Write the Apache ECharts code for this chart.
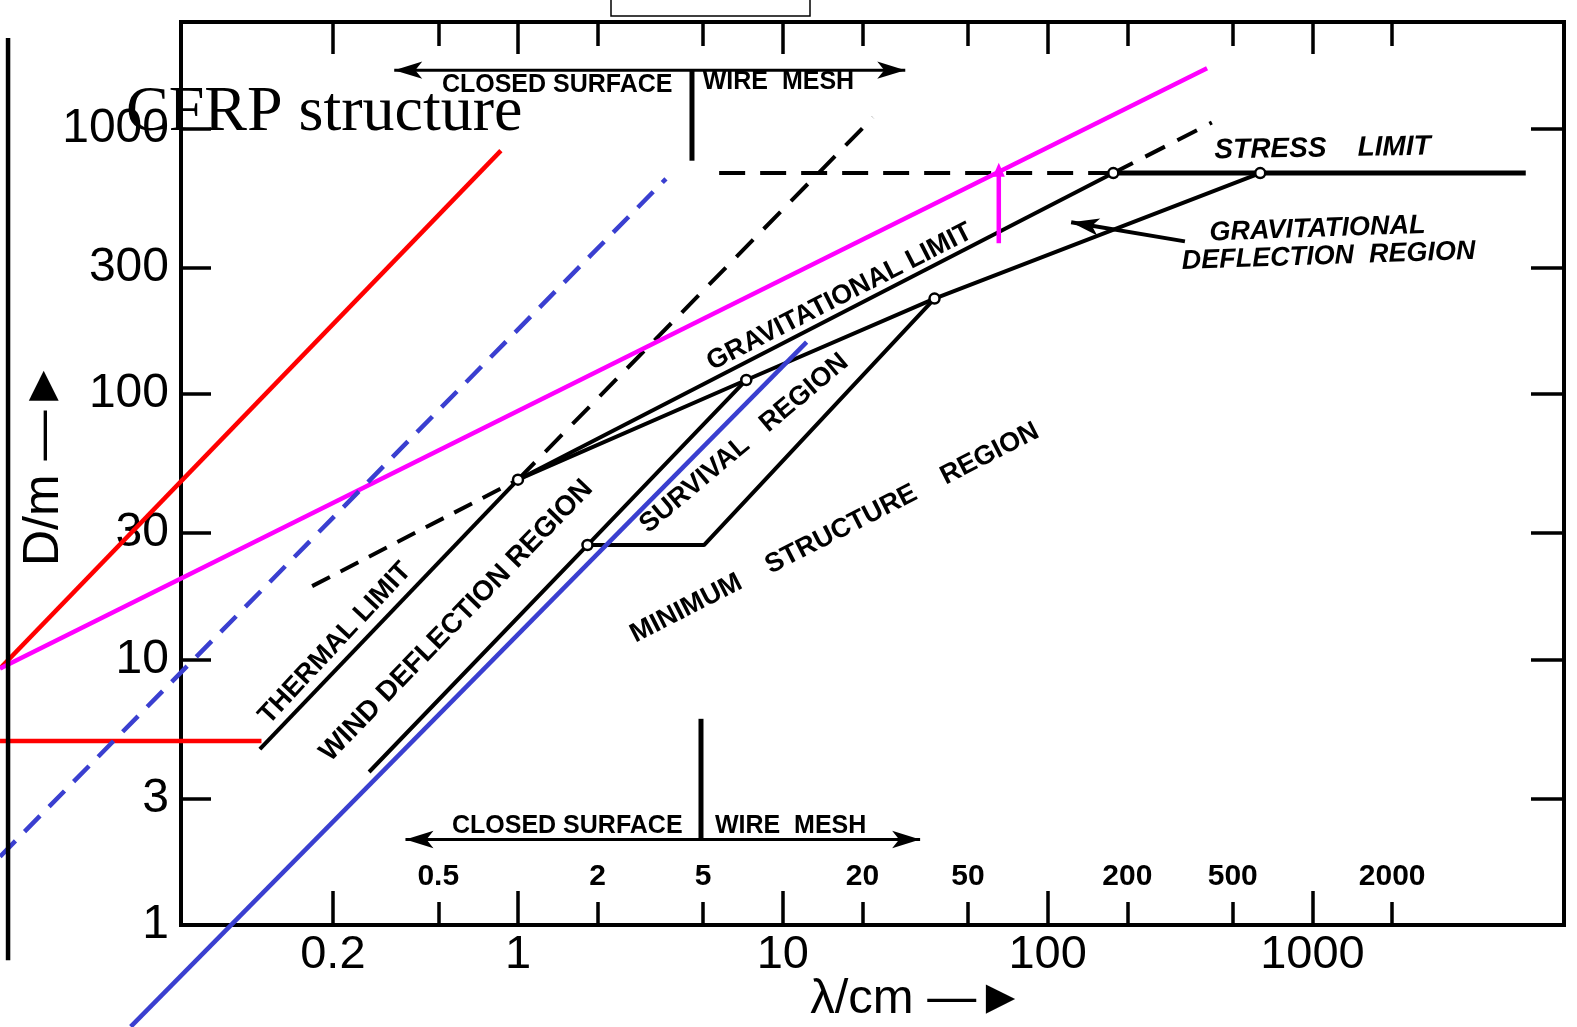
<!DOCTYPE html>
<html>
<head>
<meta charset="utf-8">
<script src="https://cdn.jsdelivr.net/npm/echarts@6/dist/echarts.min.js"></script>
<style>
html,body{margin:0;padding:0;background:#fff;}
#chart{width:1577px;height:1027px;}
</style>
</head>
<body>
<div id="chart"></div>
<script>
// ---------------- data (λ in cm, D in m) ----------------
const xMajorTicks = [0.2, 1, 10, 100, 1000];
const xMinorTicks = [0.5, 2, 5, 20, 50, 200, 500, 2000];
const yTicks = [3, 10, 30, 100, 300, 1000];
const yLabels = [1, 3, 10, 30, 100, 300, 1000];

// original figure lines
const thermalLimit = [[0.106, 4.6], [1.0, 47.6]];
const gravLimitDashedLow = [[0.167, 18.9], [1.0, 47.6]];
const gravLimit = [[1.0, 47.6], [177, 680]];
const gravLimitDashedHigh = [[177, 680], [417, 1054]];
const steepDashed = [[1.0, 47.6], [21.9, 1101]];
const windLower = [[0.274, 3.77], [1.83, 27.0], [7.28, 113]];
const lowerBranch = [[1.0, 47.6], [7.28, 113], [37.4, 229], [635, 680]];
const survivalEdge = [[1.83, 27.0], [5.04, 27.0], [37.4, 229]];
const stressDashed = [[5.75, 680], [177, 680]];
const stressSolid = [[177, 680], [6390, 680]];
const nodePoints = [[1.0, 47.6], [7.28, 113], [1.83, 27.0], [37.4, 229], [177, 680], [635, 680]];
const pointerLine = [[330, 376], [122.7, 444]];
const topBar = [[0.341, 1660], [29.0, 1660]];
const topDivider = [[4.54, 1660], [4.54, 757]];
const bottomBar = [[0.376, 2.10], [33.0, 2.10]];
const bottomDivider = [[4.91, 2.10], [4.91, 5.98]];

// overlay lines
const redDiagonal = [[0.01107, 9.25], [0.862, 826]];
const redHorizontal = [[0.01107, 4.93], [0.1075, 4.93]];
const magentaLine = [[0.01107, 9.25], [400, 1687]];
const magentaArrow = [[65.4, 370], [65.4, 700]];
const blueDashed = [[0.01107, 1.81], [3.62, 647]];
const blueSolid = [[0.0345, 0.414], [12.3, 157]];
const blackVertical = [[0.01187, 0.737], [0.01187, 2193]];

// annotation texts and anchors
const annotationTexts = ['THERMAL LIMIT', 'WIND DEFLECTION REGION', 'GRAVITATIONAL LIMIT', 'SURVIVAL   REGION',
  'MINIMUM    STRUCTURE    REGION', 'STRESS    LIMIT', 'GRAVITATIONAL', 'DEFLECTION  REGION',
  'CLOSED SURFACE', 'WIRE  MESH', 'CLOSED SURFACE', 'WIRE  MESH'];
const annotationAnchors = [[0.204, 11.5], [0.586, 14.0], [16.4, 232], [7.15, 65.2],
  [15.7, 30.0], [1092, 840], [1045, 418], [1151, 330],
  [1.406, 1455], [9.63, 1494], [1.535, 2.35], [10.7, 2.35]];
const annotationAngles = [47, 46, 27, 40, 27, 1, 2, 2, 0, 0, 0, 0];
const annotationSizes = [27, 28, 27, 27, 27, 28, 27, 27, 25, 25, 25, 25];
const annotationItalic = [false, false, false, false, false, true, true, true, false, false, false, false];

// ---------------- chart ----------------
const W = 1577, H = 1027;
const G = {left: 181, right: 13, top: 22, bottom: 102};
const X_MIN = 0.0534, X_MAX = 8910, Y_MIN = 1, Y_MAX = 2521;
// extents of a full-page helper grid that shares the same log scales (for overlays reaching beyond the frame)
const lx0 = Math.log10(X_MIN), lx1 = Math.log10(X_MAX), ly0 = Math.log10(Y_MIN), ly1 = Math.log10(Y_MAX);
const perPx = (lx1 - lx0) / (W - G.left - G.right);
const perPy = (ly1 - ly0) / (H - G.top - G.bottom);
const FX_MIN = Math.pow(10, lx0 - G.left * perPx), FX_MAX = Math.pow(10, lx1 + G.right * perPx);
const FY_MIN = Math.pow(10, ly0 - G.bottom * perPy), FY_MAX = Math.pow(10, ly1 + G.top * perPy);

const chart = echarts.init(document.getElementById('chart'), null, {renderer: 'canvas'});
const fmt = v => String(+Number(v).toPrecision(6));

function blackLine(data, dash, width) {
  return {
    type: 'line', data: data, symbol: 'none', silent: true, clip: false, z: 2,
    lineStyle: {color: '#000', width: width || 4, type: dash || 'solid'},
    emphasis: {disabled: true}
  };
}
function overlayLine(data, color, dash, width) {
  return {
    type: 'line', xAxisIndex: 4, yAxisIndex: 2, data: data, symbol: 'none', silent: true, clip: false, z: 5,
    lineStyle: {color: color, width: width || 4.5, type: dash || 'solid'},
    emphasis: {disabled: true}
  };
}
function arrowEnds(data, rotStart, rotEnd) {
  return data.map((p, i) => {
    if (i === 0 && rotStart !== null) return {value: p, symbol: 'arrow', symbolSize: [13, 28], symbolRotate: rotStart};
    if (i === data.length - 1 && rotEnd !== null) return {value: p, symbol: 'arrow', symbolSize: [13, 28], symbolRotate: rotEnd};
    return {value: p, symbol: 'none'};
  });
}

const axisFont = 'Liberation Sans';
const series = [
  blackLine(thermalLimit),
  blackLine(gravLimitDashedLow, [20, 12]),
  blackLine(gravLimit),
  blackLine(gravLimitDashedHigh, [22, 14]),
  blackLine(steepDashed, [24, 15]),
  blackLine(windLower),
  blackLine(lowerBranch),
  blackLine(survivalEdge),
  blackLine(stressDashed, [26, 15]),
  blackLine(stressSolid, 'solid', 5),
  Object.assign(blackLine(arrowEnds(pointerLine, null, 80)), {showSymbol: true, itemStyle: {color: '#000', opacity: 1}}),
  Object.assign(blackLine(arrowEnds(topBar, 90, -90), 'solid', 3), {showSymbol: true, itemStyle: {color: '#000', opacity: 1}}),
  blackLine(topDivider, 'solid', 5),
  Object.assign(blackLine(arrowEnds(bottomBar, 90, -90), 'solid', 3), {showSymbol: true, itemStyle: {color: '#000', opacity: 1}}),
  blackLine(bottomDivider, 'solid', 5),
  {
    type: 'scatter', data: nodePoints, symbol: 'circle', symbolSize: 10, silent: true, z: 4,
    itemStyle: {color: '#fff', borderColor: '#000', borderWidth: 2.5, opacity: 1}
  },
  {
    type: 'scatter', silent: true, z: 3, symbolSize: 0, clip: false,
    itemStyle: {opacity: 1},
    data: annotationTexts.map((t, i) => ({
      value: annotationAnchors[i],
      label: {
        show: true, position: 'inside', formatter: t, rotate: annotationAngles[i],
        color: '#000', opacity: 1, textBorderWidth: 0, fontFamily: axisFont, fontWeight: 'bold', fontSize: annotationSizes[i],
        fontStyle: annotationItalic[i] ? 'italic' : 'normal'
      }
    }))
  },
  overlayLine(redDiagonal, '#ff0000'),
  overlayLine(redHorizontal, '#ff0000'),
  overlayLine(magentaLine, '#ff00ff'),
  Object.assign(overlayLine(magentaArrow.map((p, i) => i === 1 ? {value: p, symbol: 'triangle', symbolSize: [12, 14]} : {value: p, symbol: 'none'}), '#ff00ff'), {showSymbol: true, itemStyle: {color: '#ff00ff', opacity: 1}}),
  overlayLine(blueDashed, '#3a3fd0', [22, 13]),
  overlayLine(blueSolid, '#3a3fd0'),
  overlayLine(blackVertical, '#000', 'solid', 4.5)
];

const tickStyle = {color: '#000', width: 3.5};
const option = {
  animation: false,
  backgroundColor: '#fff',
  title: {
    text: 'CFRP structure', left: 121, top: 76,
    textStyle: {fontFamily: 'Liberation Serif', fontSize: 64, fontWeight: 'normal', color: '#000'}
  },
  graphic: [{
    type: 'rect', shape: {x: 611, y: -3, width: 199, height: 19}, z: 10,
    style: {fill: '#fff', stroke: '#000', lineWidth: 1.5}
  }],
  grid: [
    {left: G.left, right: G.right, top: G.top, bottom: G.bottom, containLabel: false, outerBoundsMode: 'none',
      show: true, borderColor: '#000', borderWidth: 4, backgroundColor: 'transparent'},
    {left: 0, right: 0, top: 0, bottom: 0, containLabel: false, outerBoundsMode: 'none', show: false}
  ],
  xAxis: [
    {
      type: 'log', logBase: 10, min: X_MIN, max: X_MAX, position: 'bottom', offset: 0,
      axisLine: {show: false}, splitLine: {show: false},
      axisTick: {show: true, inside: true, length: 34, customValues: xMajorTicks, lineStyle: tickStyle},
      axisLabel: {show: true, customValues: xMajorTicks, formatter: fmt, color: '#000', fontFamily: axisFont, fontSize: 47, margin: 7},
      name: 'λ/cm —►', nameLocation: 'middle', nameGap: 50, nameMoveOverlap: false,
      nameTextStyle: {color: '#000', fontFamily: axisFont, fontSize: 49, padding: [0, 0, 0, 90]}
    },
    {
      type: 'log', logBase: 10, min: X_MIN, max: X_MAX, position: 'bottom', offset: 0,
      axisLine: {show: false}, splitLine: {show: false},
      axisTick: {show: true, inside: true, length: 23, customValues: xMinorTicks, lineStyle: tickStyle},
      axisLabel: {show: true, inside: true, customValues: xMinorTicks, formatter: fmt, color: '#000', fontFamily: axisFont, fontWeight: 'bold', fontSize: 30, margin: 33}
    },
    {
      type: 'log', logBase: 10, min: X_MIN, max: X_MAX, position: 'top', offset: 0,
      axisLine: {show: false}, splitLine: {show: false}, axisLabel: {show: false},
      axisTick: {show: true, inside: true, length: 32, customValues: xMajorTicks, lineStyle: tickStyle}
    },
    {
      type: 'log', logBase: 10, min: X_MIN, max: X_MAX, position: 'top', offset: 0,
      axisLine: {show: false}, splitLine: {show: false}, axisLabel: {show: false},
      axisTick: {show: true, inside: true, length: 24, customValues: xMinorTicks, lineStyle: tickStyle}
    },
    {type: 'log', logBase: 10, gridIndex: 1, min: FX_MIN, max: FX_MAX, show: false}
  ],
  yAxis: [
    {
      type: 'log', logBase: 10, min: Y_MIN, max: Y_MAX, position: 'left', offset: 0,
      axisLine: {show: false}, splitLine: {show: false},
      axisTick: {show: true, inside: true, length: 30, customValues: yTicks, lineStyle: tickStyle},
      axisLabel: {show: true, customValues: yLabels, formatter: fmt, color: '#000', fontFamily: axisFont, fontSize: 48, margin: 12},
      name: 'D/m —►', nameLocation: 'middle', nameRotate: 90, nameGap: 112, nameMoveOverlap: false,
      nameTextStyle: {color: '#000', fontFamily: axisFont, fontSize: 50, padding: [0, 0, 0, 20]}
    },
    {
      type: 'log', logBase: 10, min: Y_MIN, max: Y_MAX, position: 'right', offset: 0,
      axisLine: {show: false}, splitLine: {show: false}, axisLabel: {show: false},
      axisTick: {show: true, inside: true, length: 33, customValues: yTicks, lineStyle: tickStyle}
    },
    {type: 'log', logBase: 10, gridIndex: 1, min: FY_MIN, max: FY_MAX, show: false}
  ],
  series: series
};
chart.setOption(option);
</script>
</body>
</html>
